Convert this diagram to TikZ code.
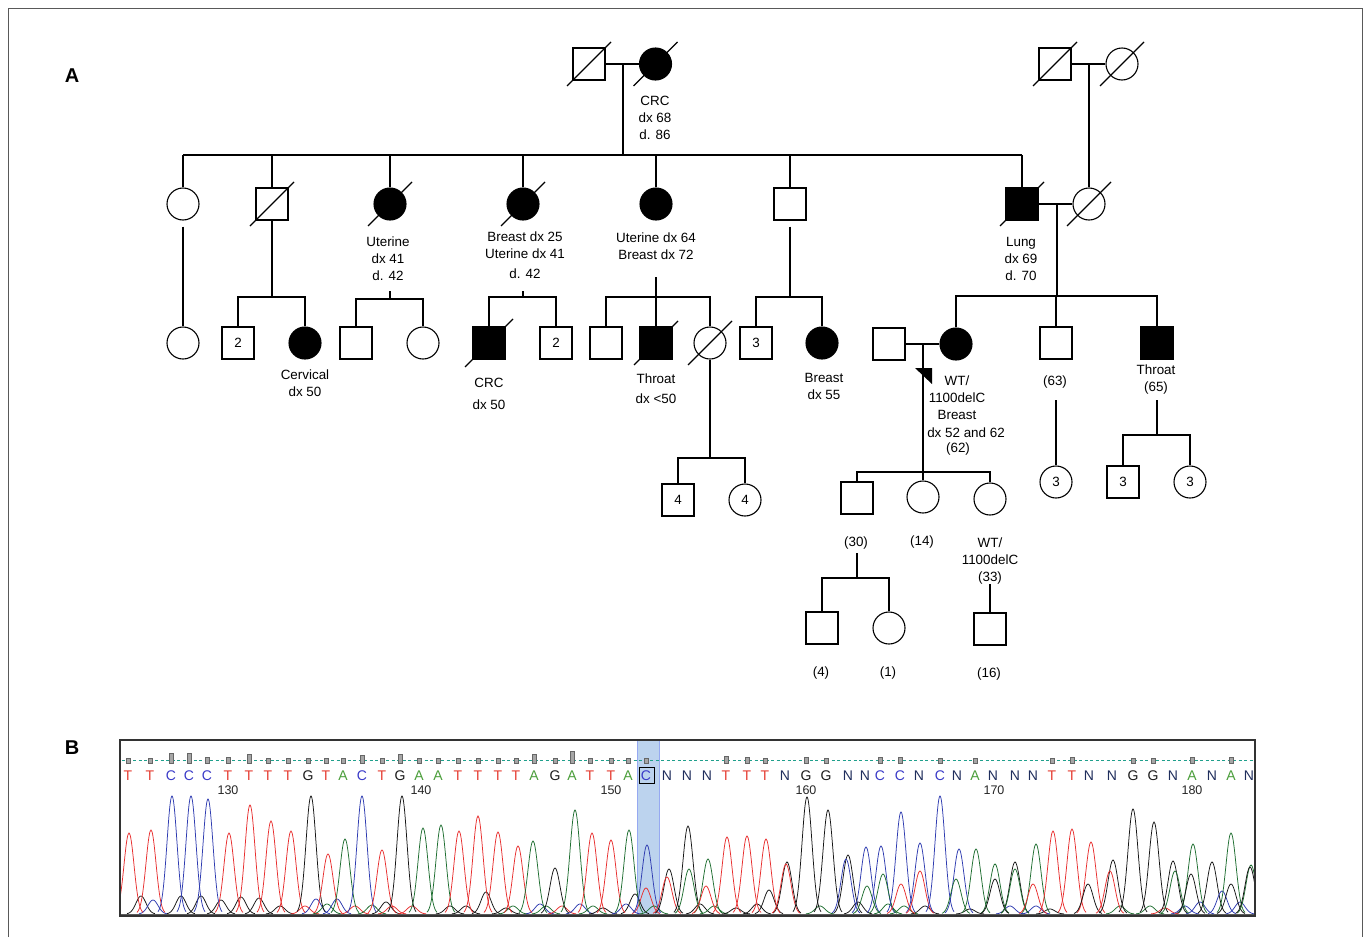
\documentclass[tikz,border=0pt]{standalone}
\usepackage{fontspec}
\setmainfont{Liberation Sans}
\newcommand\lab{\fontsize{13.4}{17}\selectfont}
\newcommand\seqf{\fontsize{14}{15}\selectfont}
\definecolor{colT}{HTML}{E53A2F}
\definecolor{colC}{HTML}{3A3AC8}
\definecolor{colA}{HTML}{4A9E3A}
\definecolor{colG}{HTML}{1A1A1A}
\definecolor{colN}{HTML}{1F2D5C}
\definecolor{pr}{HTML}{E82E2E}
\definecolor{pb}{HTML}{2E3BB0}
\definecolor{pg}{HTML}{1E6E30}
\definecolor{pk}{HTML}{151515}
\definecolor{hil}{HTML}{BCD3EE}
\definecolor{teal2}{HTML}{1FA08C}
\begin{document}
\begin{tikzpicture}[x=1pt,y=-1pt,
  ln/.style={line width=1.1pt},
  sym/.style={draw, line width=1.1pt, minimum size=32pt, inner sep=0pt, font=\lab},
  msym/.style={sym, rectangle},
  fsym/.style={sym, circle},
  aff/.style={fill=black},
  lbl/.style={font=\lab, align=center, inner sep=0pt},
  panel/.style={font=\fontsize{20}{24}\selectfont\bfseries, inner sep=0pt},
  num/.style={font=\fontsize{12.5}{14}\selectfont, text=black!85, inner sep=0pt}]
\newcommand\deceased[2][22]{\draw[ln] ([shift={(-#1,#1)}]#2.center) -- ([shift={(#1,-#1)}]#2.center);}
\newcommand\sibline[3]{\draw[ln] (#1.north) -- (#1.north |- #3) -- (#2.north |- #3) -- (#2.north);}
\useasboundingbox (0,0) rectangle (1370,937);
\fill[white] (0,0) rectangle (1370,937);
\draw[black!65, line width=1pt] (8,937) -- (8,8) -- (1362,8) -- (1362,937);
\node[panel] (pA) at (72,76) {A};
\node[panel] (pB) at (72,748) {B};

% ---------- Generation I
\node[msym] (I1) at (589,64) {};
\node[fsym,aff] (I2) at (655.5,64) {};
\node[msym] (I3) at (1055,64) {};
\node[fsym] (I4) at (1122,64) {};
\deceased{I1}\deceased{I2}\deceased{I3}\deceased{I4}
\draw[ln] (I1) -- (I2);
\draw[ln] (I3) -- (I4);
\node[lbl] (tI2) at (655,118) {CRC\\dx 68\\d. 86};
\coordinate (c1) at (623,64);
\coordinate (sibL) at (183,155);
\coordinate (sibR) at (1022,155);
\draw[ln] (sibL) -- (sibR);
\draw[ln] (c1) -- (c1 |- sibL);

% ---------- Generation II
\node[fsym] (II1) at (183,204) {};
\node[msym] (II2) at (272,204) {};
\node[fsym,aff] (II3) at (390,204) {};
\node[fsym,aff] (II4) at (523,204) {};
\node[fsym,aff] (II5) at (656,204) {};
\node[msym] (II6) at (790,204) {};
\node[msym,aff] (II7) at (1022,204) {};
\node[fsym] (II8) at (1089,204) {};
\deceased{II2}\deceased{II3}\deceased{II4}\deceased{II7}\deceased{II8}
\foreach \n in {II1,II2,II3,II4,II5,II6,II7} \draw[ln] (\n.north) -- (\n.north |- sibL);
\coordinate (c2) at (1089,64);
\draw[ln] (c2) -- (II8.north);
\draw[ln] (II7) -- (II8);
\node[lbl] (tII3) at (388,259) {Uterine\\dx 41\\d. 42};
\node[lbl] (tII4) at (525,255) {Breast dx 25\\Uterine dx 41\\[3pt]d. 42};
\node[lbl] (tII5) at (656,246.5) {Uterine dx 64\\Breast dx 72};
\node[lbl] (tII7) at (1021,259) {Lung\\dx 69\\d. 70};

% ---------- Generation III
\node[fsym] (III1) at (183,343) {};
\node[msym] (III2) at (238,343) {2};
\node[fsym,aff] (III3) at (305,343) {};
\node[msym] (III4) at (356,343) {};
\node[fsym] (III5) at (423,343) {};
\node[msym,aff] (III6) at (489,343) {};
\node[msym] (III7) at (556,343) {2};
\node[msym] (III8) at (606,343) {};
\node[msym,aff] (III9) at (656,343) {};
\node[fsym] (III10) at (710,343) {};
\node[msym] (III11) at (756,343) {3};
\node[fsym,aff] (III12) at (822,343) {};
\node[msym] (III13) at (889,344) {};
\node[fsym,aff] (III14) at (956,344) {};
\node[msym] (III15) at (1056,343) {};
\node[msym,aff] (III16) at (1157,343) {};
\deceased[24]{III6}\deceased{III9}\deceased{III10}

\draw[ln] ([shift={(0,6)}]II1.south) -- (III1.north);
\coordinate (j2) at (272,297);
\draw[ln] (II2.south) -- (j2);
\sibline{III2}{III3}{j2}
\coordinate (j3) at (390,299);
\coordinate (s3) at (390,291);
\draw[ln] (s3) -- (j3);
\sibline{III4}{III5}{j3}
\coordinate (j4) at (523,297);
\coordinate (s4) at (523,291);
\draw[ln] (s4) -- (j4);
\sibline{III6}{III7}{j4}
\coordinate (j5) at (656,297);
\coordinate (s5) at (656,277);
\draw[ln] (s5) -- (j5);
\sibline{III8}{III10}{j5}
\draw[ln] (III9.north) -- (j5);
\coordinate (j6) at (790,297);
\draw[ln] ([shift={(0,6)}]II6.south) -- (j6);
\sibline{III11}{III12}{j6}
\coordinate (c3) at (1057,204);
\coordinate (j7) at (1057,296);
\draw[ln] (c3) -- (j7);
\sibline{III14}{III16}{j7}
\draw[ln] (III15.north) -- (III15.north |- j7);
\draw[ln] (III13) -- (III14);
\coordinate (c4) at (923,344);
\coordinate (j9) at (923,472);
\draw[ln] (c4) -- (j9);
\coordinate (ar1) at (915,368);
\coordinate (ar2) at (932,368);
\coordinate (ar3) at (932,384);
\fill (ar1) -- (ar2) -- (ar3) -- cycle;

\node[lbl] (tIII3) at (305,383.5) {Cervical\\dx 50};
\node[lbl] (tIII6) at (489,394) {CRC\\[5pt]dx 50};
\node[lbl] (tIII9) at (656,389) {Throat\\[3pt]dx <50};
\node[lbl] (tIII12) at (824,386.5) {Breast\\dx 55};
\node[lbl] (tIII14a) at (957,397.5) {WT/\\1100delC\\Breast};
\node[lbl] (tIII14b) at (966,433) {dx 52 and 62};
\node[lbl] (tIII14c) at (958,449) {(62)};
\node[lbl] (tIII15) at (1055,382) {(63)};
\node[lbl] (tIII16) at (1156,379.5) {Throat\\(65)};

% ---------- Generation IV
\node[msym] (IV1) at (678,500) {4};
\node[fsym] (IV2) at (745,500) {4};
\node[msym] (IV3) at (857,498) {};
\node[fsym] (IV4) at (923,497) {};
\node[fsym] (IV5) at (990,499) {};
\node[fsym] (IV6) at (1056,482) {3};
\node[msym] (IV7) at (1123,482) {3};
\node[fsym] (IV8) at (1190,482) {3};
\coordinate (j8) at (710,458);
\draw[ln] (III10.south) -- (j8);
\sibline{IV1}{IV2}{j8}
\sibline{IV3}{IV5}{j9}
\draw[ln] (j9) -- (IV4.north);
\coordinate (s6) at (1056,400);
\draw[ln] (s6) -- (IV6.north);
\coordinate (s7) at (1157,400);
\coordinate (j10) at (1157,435);
\draw[ln] (s7) -- (j10);
\sibline{IV7}{IV8}{j10}
\node[lbl] (tIV3) at (856,543) {(30)};
\node[lbl] (tIV4) at (922,542) {(14)};
\node[lbl] (tIV5) at (990,561.5) {WT/\\1100delC\\(33)};

% ---------- Generation V
\node[msym] (V1) at (822,628) {};
\node[fsym] (V2) at (889,628) {};
\node[msym] (V3) at (990,629) {};
\coordinate (s8) at (857,553);
\coordinate (j11) at (857,578);
\draw[ln] (s8) -- (j11);
\sibline{V1}{V2}{j11}
\coordinate (s9) at (990,584);
\draw[ln] (s9) -- (V3.north);
\node[lbl] (tV1) at (821,673) {(4)};
\node[lbl] (tV2) at (888,673) {(1)};
\node[lbl] (tV3) at (989,674) {(16)};

% ---------- Panel B: chromatogram
\fill[hil] (637,741) rectangle (659,915);
\draw[hil!80!blue, line width=0.5pt] (637,741) -- (637,915) (659,741) -- (659,915);
\draw[teal2, line width=0.9pt, dash pattern=on 3pt off 2.5pt] (122,760) -- (1253,760);
\foreach \b/\x/\q [count=\i] in {T/128/5,T/150/5,C/171/10,C/189/10,C/207/6,T/228/6,T/249/9,T/268/5,T/288/5,G/308/5,T/326/5,A/343/5,C/362/8,T/382/5,G/400/9,A/419/5,A/438/5,T/458/5,T/478/5,T/498/5,T/516/5,A/534/9,G/555/5,A/572/12,T/590/5,T/611/5,A/628/5,C/646/5,N/667/0,N/687/0,N/707/0,T/726/7,T/747/6,T/765/5,N/785/0,G/806/6,G/826/5,N/848/0,N/865/0,C/880/6,C/900/6,N/919/0,C/940/5,N/957/0,A/975/5,N/993/0,N/1015/0,N/1033/0,T/1052/5,T/1072/6,N/1089/0,N/1112/0,G/1133/5,G/1153/5,N/1173/0,A/1192/6,N/1212/0,A/1231/6,N/1249/0}{
  \node[font=\seqf, text=col\b, inner sep=0pt] (b\i) at (\x,775.5) {\b};
  \ifnum\q>0
    \draw[black!60, fill=black!35, line width=0.4pt] (\x-2,763) rectangle (\x+2,763-\q);
  \fi
}
\node[draw, line width=1pt, minimum width=15pt, minimum height=16pt, inner sep=0pt] (box152) at (646.5,775.5) {};
\node[num] (n130) at (228,790) {130};
\node[num] (n140) at (421,790) {140};
\node[num] (n150) at (611,790) {150};
\node[num] (n160) at (806,790) {160};
\node[num] (n170) at (994,790) {170};
\node[num] (n180) at (1192,790) {180};

\begin{scope}
\clip (121,741) rectangle (1254,915);
\draw[pk!70, line width=0.5pt] (121,914) -- (1254,914);
\foreach \x/\h/\c [evaluate=\x as \xa using \x-14, evaluate=\x as \xb using \x+14] in {
141/18/pk, 153/14/pb, 181/18/pk, 201/18/pk, 221/14/pk, 241/17/pk, 259/16/pk, 280/8/pk, 305/8/pr, 316/15/pb, 327/10/pg, 337/15/pb, 355/8/pr, 372/9/pg, 386/12/pk, 392/8/pr, 412/8/pr, 450/8/pk, 466/8/pk, 486/22/pk, 506/6/pk, 513/8/pg, 540/10/pb, 546/8/pg, 562/8/pr, 580/10/pb, 593/8/pg, 603/6/pk, 626/10/pb, 635/20/pk, 646/26/pr, 654/8/pg, 700/10/pk, 714/8/pg, 736/6/pk, 757/10/pk, 769/24/pk, 820/8/pg, 858/12/pk, 888/10/pg, 904/8/pg, 925/8/pk, 970/5/pk, 1010/8/pb, 1036/8/pb, 1050/5/pk, 1120/8/pg, 1150/8/pg, 1165/6/pr, 1185/8/pb, 1200/12/pb, 1240/12/pb,
129/81/pr, 151/84/pr, 172/118/pb, 191/118/pb, 208/115/pb, 229/81/pr, 250/109/pr, 271/93/pr, 291/83/pr, 311/118/pk, 328/60/pr, 345/75/pg, 362/118/pb, 382/64/pr, 402/118/pk, 423/86/pg, 441/89/pg, 459/83/pr, 478/98/pr, 498/82/pr, 518/68/pr, 533/73/pg, 555/46/pk, 575/104/pg, 592/81/pr, 611/74/pr, 629/84/pg, 647/69/pb, 669/45/pk, 667/37/pr, 688/88/pk, 689/45/pg, 708/55/pg, 706/28/pr, 727/77/pr, 747/78/pr, 766/75/pr, 787/52/pk, 786/50/pr, 807/117/pk, 828/104/pk, 848/59/pk, 846/55/pb, 866/67/pb, 867/28/pg, 881/68/pb, 883/40/pg, 901/102/pb, 901/30/pr, 920/71/pb, 920/43/pr, 940/118/pb, 959/65/pb, 956/35/pg, 976/65/pg, 995/50/pg, 995/35/pk, 1015/52/pk, 1015/45/pg, 1036/70/pg, 1033/30/pr, 1053/83/pr, 1072/85/pr, 1091/72/pr, 1088/30/pk, 1113/54/pk, 1110/43/pr, 1133/105/pk, 1154/92/pk, 1173/53/pk, 1175/43/pg, 1193/70/pg, 1191/40/pk, 1212/52/pk, 1222/23/pb, 1231/81/pg, 1231/30/pk, 1251/49/pg, 1250/47/pk}{
  \draw[\c, line width=0.75pt] plot[variable=\t, domain=\xa:\xb, samples=29, smooth] (\t,{914-\h*exp(-0.5*((\t-\x)/5.0)^2)});
}
\end{scope}
\draw[black!80, line width=1.4pt] (120,740) rectangle (1255,916);
\end{tikzpicture}
\end{document}
